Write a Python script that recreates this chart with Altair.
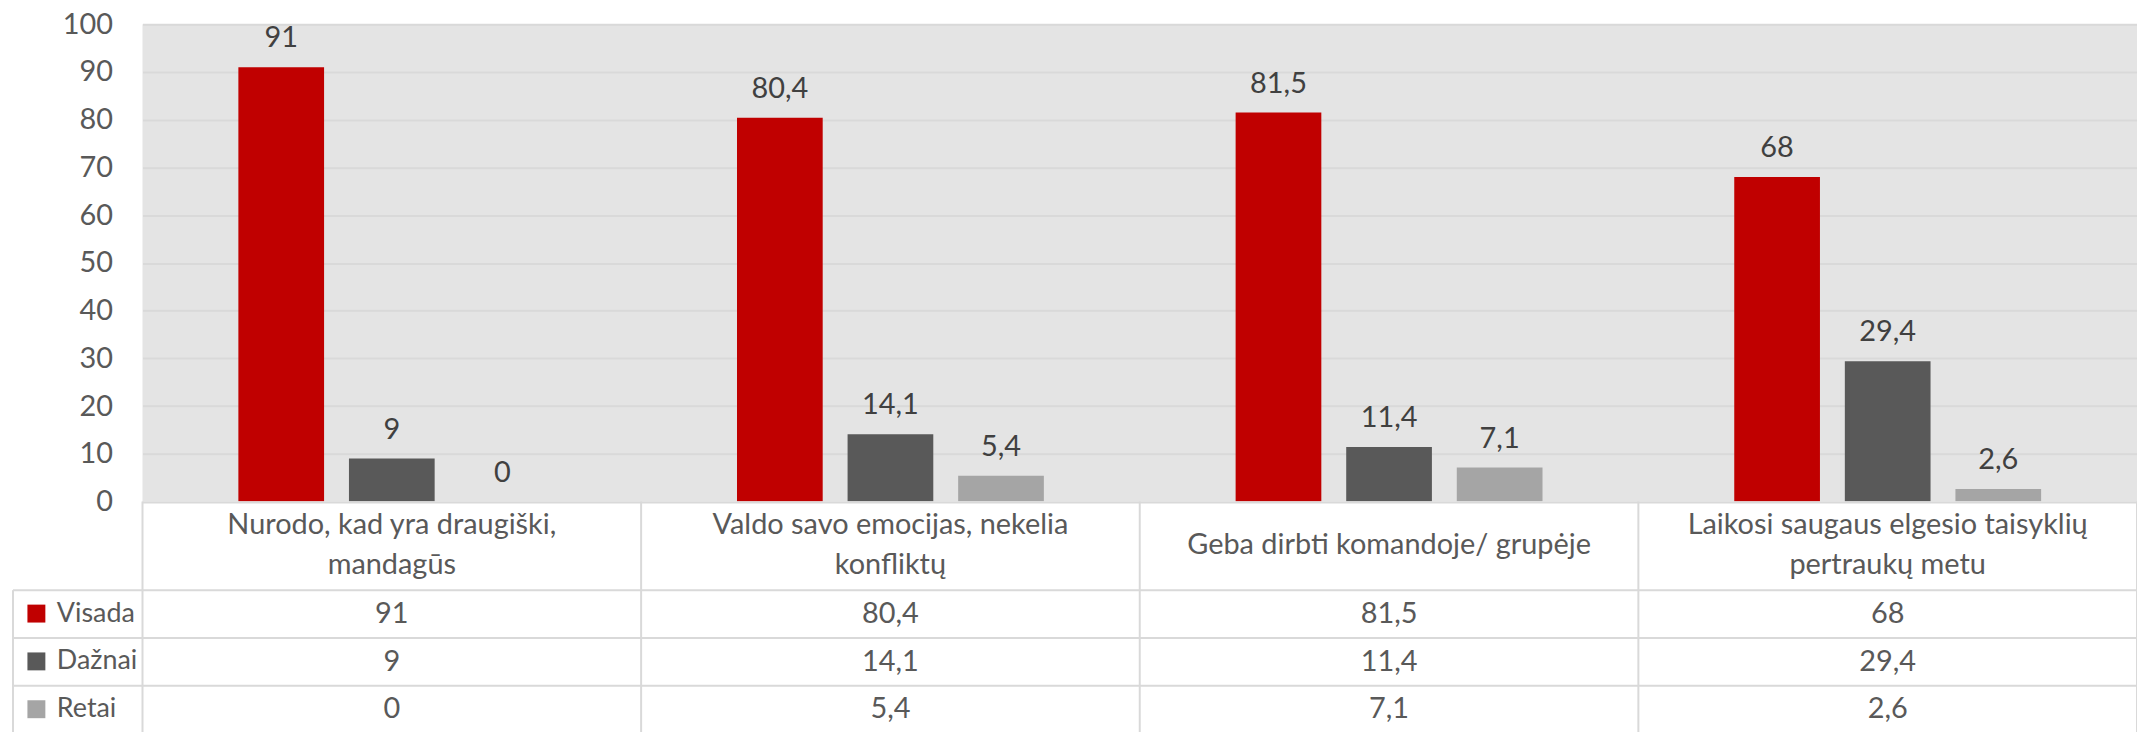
import altair as alt
import pandas as pd

categories = [
    "Nurodo, kad yra draugiški, mandagūs",
    "Valdo savo emocijas, nekelia konfliktų",
    "Geba dirbti komandoje/ grupėje",
    "Laikosi saugaus elgesio taisyklių pertraukų metu",
]
header_line1 = [
    "Nurodo, kad yra draugiški,",
    "Valdo savo emocijas, nekelia",
    "Geba dirbti komandoje/ grupėje",
    "Laikosi saugaus elgesio taisyklių",
]
header_line2 = ["mandagūs", "konfliktų", "", "pertraukų metu"]
series = ["Visada", "Dažnai", "Retai"]
visada = [91, 80.4, 81.5, 68]
daznai = [9, 14.1, 11.4, 29.4]
retai = [0, 5.4, 7.1, 2.6]
colors = ["#C00000", "#595959", "#A5A5A5"]
y_ticks = list(range(0, 101, 10))


def fmt(v):
    return f"{v:g}".replace(".", ",")


rows = []
for s, vals in zip(series, [visada, daznai, retai]):
    for c, v in zip(categories, vals):
        rows.append({"category": c, "series": s, "value": v, "label": fmt(v)})
df = pd.DataFrame(rows)
cat_df = pd.DataFrame({"category": categories, "line1": header_line1, "line2": header_line2})
one = pd.DataFrame({"k": [0]})

FONT = "Lato"
FS = 29
W = 2002
PH = 479
TH = 709
LEFT_COL = -130
GRID = "#D9D9D9"
TXT = "#595959"

x_scale = alt.Scale(domain=categories, paddingInner=0, paddingOuter=0)
x_enc = alt.X("category:N", sort=categories, scale=x_scale, axis=None)
xo_enc = alt.XOffset("series:N", sort=series,
                     scale=alt.Scale(domain=series, paddingInner=0.225, paddingOuter=0.867))
y_enc = alt.Y(
    "value:Q",
    scale=alt.Scale(domain=[0, 100], range=[PH, 0], nice=False),
    axis=alt.Axis(values=y_ticks, title=None, domain=False, ticks=False, tickSize=0,
                  labelPadding=30, labelFontSize=FS, labelFont=FONT, labelColor=TXT,
                  grid=True, gridColor=GRID, gridWidth=2),
)

bars = alt.Chart(df).mark_bar().encode(
    x=x_enc,
    xOffset=xo_enc,
    y=y_enc,
    color=alt.Color(
        "series:N", sort=series,
        scale=alt.Scale(domain=series, range=colors),
        legend=alt.Legend(orient="none", legendX=-120, legendY=578, title=None,
                          direction="vertical", symbolType="square", symbolSize=324,
                          symbolStrokeWidth=0, labelFontSize=27, labelFont=FONT,
                          labelColor=TXT, labelOffset=7, rowPadding=20, padding=0),
    ),
)

labels = alt.Chart(df).mark_text(baseline="alphabetic", dy=-20, fontSize=FS, font=FONT,
                                 color="#404040").encode(
    x=x_enc, xOffset=xo_enc, y=alt.Y("value:Q"), text="label:N"
)

table_bg = alt.Chart(one).mark_rect(color="white").encode(
    x=alt.value(0), x2=alt.value(W), y=alt.value(PH), y2=alt.value(TH + 10)
)


def hline(yv, x1, x2):
    return alt.Chart(one).mark_rule(color=GRID, strokeWidth=2).encode(
        x=alt.value(x1), x2=alt.value(x2), y=alt.value(yv))


def vline(xv, y1, y2):
    return alt.Chart(one).mark_rule(color=GRID, strokeWidth=2).encode(
        x=alt.value(xv), y=alt.value(y1), y2=alt.value(y2))


row_tops = [568, 616, 664]
row_centers = [592, 640, 687]

lines = [hline(PH + 1, 0, W)]
lines += [hline(r, LEFT_COL, W) for r in row_tops]
lines += [vline(LEFT_COL, 568, TH + 10), vline(W, PH, TH + 10)]
cat_lines = alt.Chart(cat_df).mark_rule(color=GRID, strokeWidth=2).encode(
    x=alt.X("category:N", sort=categories, bandPosition=0),
    y=alt.value(PH), y2=alt.value(TH + 10),
)

xcat = alt.X("category:N", sort=categories)
head_style = dict(baseline="middle", fontSize=FS, font=FONT, color=TXT)
head_two_1 = alt.Chart(cat_df).transform_filter(alt.datum.line2 != "").mark_text(**head_style).encode(
    x=xcat, y=alt.value(503), text="line1:N")
head_two_2 = alt.Chart(cat_df).transform_filter(alt.datum.line2 != "").mark_text(**head_style).encode(
    x=xcat, y=alt.value(543), text="line2:N")
head_one = alt.Chart(cat_df).transform_filter(alt.datum.line2 == "").mark_text(**head_style).encode(
    x=xcat, y=alt.value(523), text="line1:N")

cells = []
for s, yc in zip(series, row_centers):
    cells.append(
        alt.Chart(df).transform_filter(alt.datum.series == s)
        .mark_text(baseline="middle", fontSize=FS, font=FONT, color=TXT)
        .encode(x=xcat, y=alt.value(yc), text="label:N")
    )

chart = alt.layer(bars, labels, table_bg, *lines, cat_lines,
                  head_two_1, head_two_2, head_one, *cells).properties(
    width=W, height=TH,
    autosize=alt.AutoSizeParams(type="none"),
    padding={"left": 135, "top": 15, "right": 0, "bottom": 0},
    background="white",
).configure_view(stroke=None, fill="#E4E4E4")

chart.save("out.html", embed_options={"renderer": "svg", "actions": False})
